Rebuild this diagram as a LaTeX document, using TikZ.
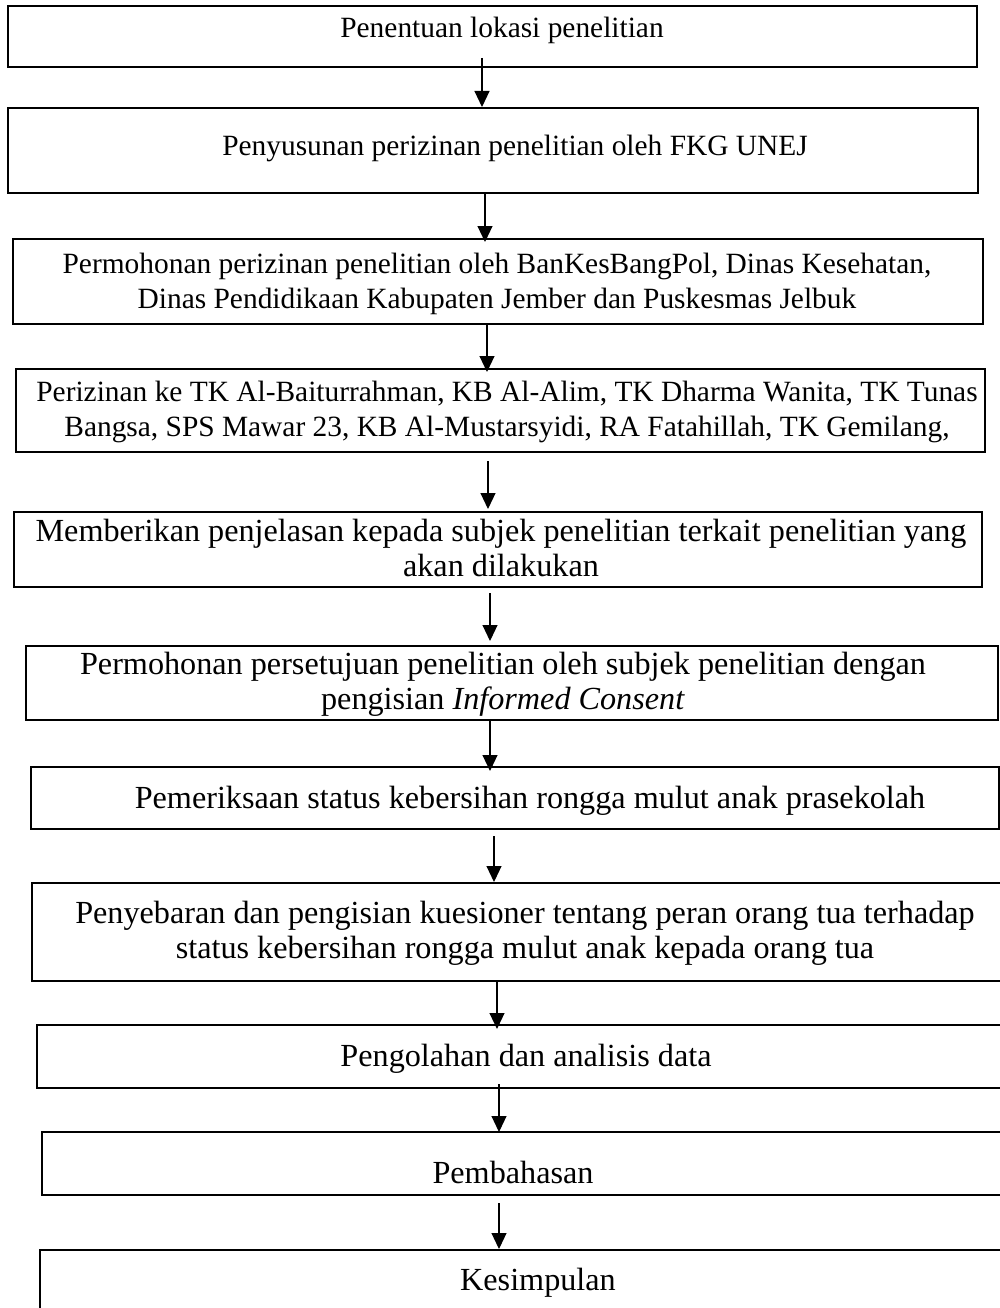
\documentclass[tikz,border=0pt]{standalone}
\usepackage{fontspec}
\setmainfont{Liberation Serif}
\usetikzlibrary{arrows.meta,fit}
\tikzset{
  box/.style={draw=black, line width=2pt, inner sep=0pt, fill=none},
  txt/.style={anchor=base, align=center, inner sep=0pt, font=\fontsize{29.4}{34.5}\selectfont},
  txtbig/.style={anchor=base, align=center, inner sep=0pt, font=\fontsize{32.2}{34.5}\selectfont},
  arr/.style={line width=1.1pt, -{Triangle[length=16pt,width=15pt]}},
}
\begin{document}
\begin{tikzpicture}[x=1pt,y=-1pt]
\clip (0,0) rectangle (1000,1308);
\useasboundingbox (0,0) rectangle (1000,1308);
% boxes
\node[box, fit={(8,6) (977,67)}] (b1) {};
\node[box, fit={(8,108) (978,193)}] (b2) {};
\node[box, fit={(13,239) (983,324)}] (b3) {};
\node[box, fit={(16,369) (985,452)}] (b4) {};
\node[box, fit={(14,512) (982,587)}] (b5) {};
\node[box, fit={(26,646) (998,720)}] (b6) {};
\node[box, fit={(31,767) (999,829)}] (b7) {};
\node[box, fit={(32,883) (1003,981)}] (b8) {};
\node[box, fit={(37,1025) (1010,1088)}] (b9) {};
\node[box, fit={(42,1132) (1010,1195)}] (b10) {};
\node[box, fit={(40,1250) (1010,1330)}] (b11) {};
% texts (anchor = baseline of last line)
\node[txt] (t1) at (502,38) {Penentuan lokasi penelitian};
\node[txt] (t2) at (515,156) {Penyusunan perizinan penelitian oleh FKG UNEJ};
\node[txt] (t3) at (497,308) {Permohonan perizinan penelitian oleh BanKesBangPol, Dinas Kesehatan,\\Dinas Pendidikaan Kabupaten Jember dan Puskesmas Jelbuk};
\node[txt] (t4) at (507,436) {Perizinan ke TK Al-Baiturrahman, KB Al-Alim, TK Dharma Wanita, TK Tunas\\Bangsa, SPS Mawar 23, KB Al-Mustarsyidi, RA Fatahillah, TK Gemilang,};
\node[txtbig] (t5) at (501,576) {Memberikan penjelasan kepada subjek penelitian terkait penelitian yang\\akan dilakukan};
\node[txtbig] (t6) at (503,709) {Permohonan persetujuan penelitian oleh subjek penelitian dengan\\pengisian \textit{Informed Consent}};
\node[txtbig] (t7) at (530,808) {Pemeriksaan status kebersihan rongga mulut anak prasekolah};
\node[txtbig] (t8) at (525,958) {Penyebaran dan pengisian kuesioner tentang peran orang tua terhadap\\status kebersihan rongga mulut anak kepada orang tua};
\node[txtbig] (t9) at (526,1066) {Pengolahan dan analisis data};
\node[txtbig] (t10) at (513,1183) {Pembahasan};
\node[txtbig] (t11) at (538,1290) {Kesimpulan};
% arrows
\draw[arr] ([yshift=10pt]b1.south -| 482,0) -- (b2.north -| 482,0);
\draw[arr] (b2.south -| 485,0) -- ([yshift=-4pt]b3.north -| 485,0);
\draw[arr] (b3.south -| 487,0) -- ([yshift=-4pt]b4.north -| 487,0);
\draw[arr] ([yshift=-8pt]b4.south -| 488,0) -- ([yshift=2pt]b5.north -| 488,0);
\draw[arr] ([yshift=-5pt]b5.south -| 490,0) -- ([yshift=4pt]b6.north -| 490,0);
\draw[arr] (b6.south -| 490,0) -- ([yshift=-5pt]b7.north -| 490,0);
\draw[arr] ([yshift=-6pt]b7.south -| 494,0) -- (b8.north -| 494,0);
\draw[arr] (b8.south -| 497,0) -- ([yshift=-5pt]b9.north -| 497,0);
\draw[arr] ([yshift=5pt]b9.south -| 499,0) -- ([yshift=-1pt]b10.north -| 499,0);
\draw[arr] ([yshift=-7pt]b10.south -| 499,0) -- (b11.north -| 499,0);
\end{tikzpicture}
\end{document}
